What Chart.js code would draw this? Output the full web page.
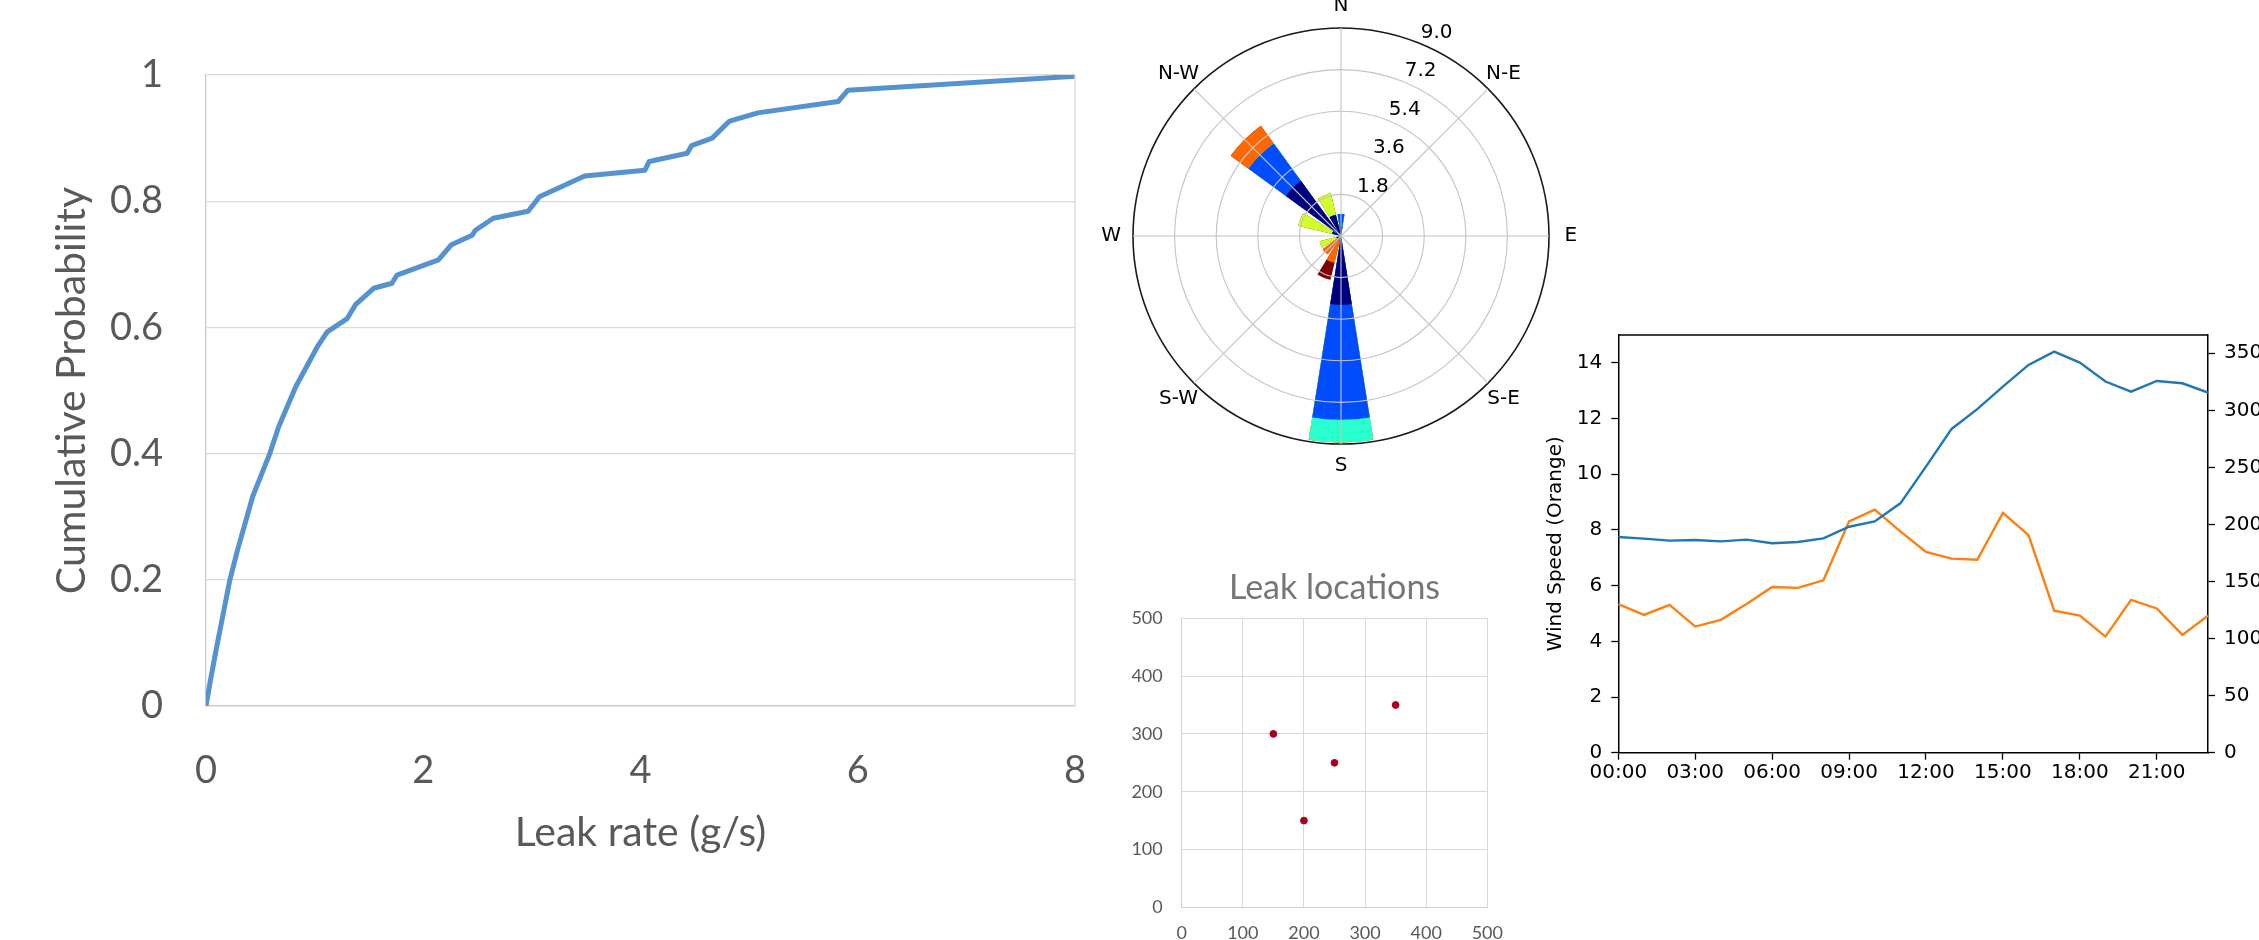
<!DOCTYPE html>
<html>
<head>
<meta charset="utf-8">
<script src="https://cdn.jsdelivr.net/npm/chart.js@4.4.1/dist/chart.umd.min.js"></script>
<style>
  html, body { margin: 0; padding: 0; background: #fff; }
  body { width: 2259px; height: 940px; overflow: hidden; position: relative; }
  .box { position: absolute; }
</style>
</head>
<body>
<div class="box" style="left:0;top:0;width:1120px;height:900px"><canvas id="cdfChart"></canvas></div>
<div class="box" style="left:1090px;top:0;width:502px;height:490px"><canvas id="roseChart"></canvas></div>
<div class="box" style="left:1110px;top:560px;width:420px;height:420px"><canvas id="leakChart"></canvas></div>
<div class="box" style="left:1530px;top:300px;width:740px;height:520px"><canvas id="windChart"></canvas></div>
<script>
// Cumulative probability of leak rate
const leakRate = [0, 0.04, 0.1, 0.22, 0.29, 0.43, 0.587, 0.67, 0.826, 1.024, 1.116, 1.30, 1.376, 1.544, 1.712, 1.758,
                  2.14, 2.26, 2.45, 2.48, 2.645, 2.966, 3.07, 3.486, 4.04, 4.08, 4.43, 4.47, 4.66, 4.82, 5.08, 5.82, 5.91, 8.0];
const cumProb = [0, 0.04, 0.095, 0.2, 0.247, 0.332, 0.40, 0.443, 0.506, 0.569, 0.593, 0.614, 0.636, 0.662, 0.670, 0.683,
                 0.707, 0.731, 0.746, 0.754, 0.773, 0.784, 0.807, 0.84, 0.849, 0.863, 0.876, 0.888, 0.90, 0.927, 0.94, 0.958, 0.976, 0.998];

// Wind rose: 16 directions (N, NNE, ... NNW), six speed classes stacked outward
const compassLabels = ['N', 'N-E', 'E', 'S-E', 'S', 'S-W', 'W', 'N-W'];
const speedClass0 = [0.4, 0, 0, 0, 0, 0, 0, 0, 2.98, 0, 0, 0.2, 0, 0.4, 2.95, 0.95];
const speedClass1 = [0.55, 0, 0, 0, 0, 0, 0, 0, 4.97, 0, 0, 0, 0, 0, 2.0, 0];
const speedClass2 = [0, 0, 0, 0, 0, 0, 0, 0, 0.98, 0, 0, 0, 0, 0, 0, 0];
const speedClass3 = [0, 0, 0, 0, 0, 0, 0, 0, 0, 0, 0, 0.75, 0, 1.5, 0, 0.95];
const speedClass4 = [0, 0, 0, 0, 0, 0, 0, 0, 0, 1.2, 0.98, 0, 0, 0, 0.95, 0];
const speedClass5 = [0, 0, 0, 0, 0, 0, 0, 0, 0, 0.75, 0, 0, 0, 0, 0, 0];
const speedColors = ['#00007F', '#004CFF', '#29FFCE', '#CEFF29', '#FF6800', '#7F0000'];

// Leak locations
const leakX = [150, 200, 250, 350];
const leakY = [300, 150, 250, 350];

// Hourly wind speed (left axis) and direction (right axis)
const hours = [0, 1, 2, 3, 4, 5, 6, 7, 8, 9, 10, 11, 12, 13, 14, 15, 16, 17, 18, 19, 20, 21, 22, 23];
const windSpeed = [5.34, 4.95, 5.31, 4.53, 4.77, 5.34, 5.95, 5.92, 6.19, 8.31, 8.73, 7.95,
                   7.21, 6.97, 6.93, 8.61, 7.81, 5.10, 4.92, 4.17, 5.49, 5.18, 4.23, 4.92];
const windDirection = [189, 187.6, 185.8, 186.4, 185.2, 186.7, 183.5, 184.6, 187.8, 198, 202.7, 218.5,
                       250.7, 283.7, 301, 320.8, 339.8, 351.4, 341.8, 325.2, 316.4, 325.7, 323.7, 315.5];

Chart.defaults.animation = false;
Chart.defaults.devicePixelRatio = 1;
Chart.defaults.plugins.legend.display = false;
Chart.defaults.plugins.tooltip.enabled = false;

const excelGrey = '#595959';
const mplFont = { family: 'DejaVu Sans', size: 20 };

// draws extra sides of the plot frame
const frame = {
    id: 'frame',
    afterDatasetsDraw(chart, args, opts) {
        const { left, right, top, bottom } = chart.chartArea;
        const ctx = chart.ctx;
        ctx.save();
        ctx.strokeStyle = opts.color;
        ctx.lineWidth = opts.width;
        ctx.beginPath();
        (opts.sides || []).forEach(side => {
            if (side === 'top') { ctx.moveTo(left, top); ctx.lineTo(right, top); }
            if (side === 'right') { ctx.moveTo(right, top); ctx.lineTo(right, bottom); }
        });
        ctx.stroke();
        ctx.restore();
    }
};

// ---- CDF chart ----
new Chart(document.getElementById('cdfChart'), {
    type: 'line',
    data: {
        datasets: [{
            data: leakRate.map((x, i) => ({ x: x, y: cumProb[i] })),
            borderColor: '#5592D0',
            borderWidth: 5,
            borderJoinStyle: 'round',
            pointRadius: 0,
            tension: 0
        }]
    },
    options: {
        responsive: true,
        maintainAspectRatio: false,
        layout: { padding: { top: 75, right: 40, left: 0, bottom: 0 } },
        plugins: { frame: { sides: ['right'], color: '#d9d9d9', width: 1.3 } },
        scales: {
            x: {
                type: 'linear', min: 0, max: 8,
                afterFit: s => { s.height = 194; },
                ticks: { stepSize: 2, padding: 34, color: excelGrey, font: { family: 'Lato', size: 38 } },
                grid: { display: false },
                border: { display: true, color: '#c8c8c8', width: 1.3 },
                title: { display: true, text: 'Leak rate (g/s)', color: excelGrey,
                         font: { family: 'Lato', size: 41 }, padding: { top: 0, bottom: 43 } }
            },
            y: {
                min: 0, max: 1,
                afterFit: s => { s.width = 206; },
                ticks: {
                    stepSize: 0.2, padding: 43, color: excelGrey, font: { family: 'Lato', size: 38 },
                    callback: v => (v === 0 || v === 1) ? String(v) : v.toFixed(1)
                },
                grid: { color: '#d9d9d9', lineWidth: 1.3, drawTicks: false },
                border: { display: true, color: '#c8c8c8', width: 1.3 },
                title: { display: true, text: 'Cumulative Probability', color: excelGrey,
                         font: { family: 'Lato', size: 41 }, padding: { top: 47, bottom: 0 } }
            }
        }
    },
    plugins: [frame]
});

// ---- Wind rose ----
// each direction takes an 18 degree bar with a 4.5 degree gap; N is split across 0/360
function toSectors(values) {
    const out = [values[0]];
    for (let d = 1; d < values.length; d++) out.push(0, values[d]);
    out.push(0, values[0]);
    return out;
}
const classes = [speedClass0, speedClass1, speedClass2, speedClass3, speedClass4, speedClass5];
const running = new Array(16).fill(0);
const roseSets = classes.map((cls, k) => {
    cls.forEach((v, d) => { running[d] += v; });
    return {
        data: toSectors(running.slice()),
        backgroundColor: speedColors[k],
        borderWidth: 0,
        angle: c => (c.dataIndex === 0 || c.dataIndex === 32) ? 9 : (c.dataIndex % 2 ? 4.5 : 18)
    };
});

const roseLabels = {
    id: 'roseLabels',
    afterDraw(chart) {
        const scale = chart.scales.r;
        const ctx = chart.ctx;
        ctx.save();
        ctx.font = '20px "DejaVu Sans"';
        ctx.fillStyle = '#000';
        ctx.textAlign = 'center';
        ctx.textBaseline = 'middle';
        compassLabels.forEach((label, i) => {
            const p = scale.getPointPosition(i, scale.drawingArea * 1.105);
            ctx.fillText(label, p.x, p.y);
        });
        scale.ticks.forEach(t => {
            if (t.value === 0) return;
            const p = scale.getPointPosition(0, scale.getDistanceFromCenterForValue(t.value), Math.PI / 8);
            ctx.fillText(t.value.toFixed(1), p.x + 16, p.y - 11);
        });
        ctx.restore();
    }
};

new Chart(document.getElementById('roseChart'), {
    type: 'polarArea',
    data: { labels: compassLabels, datasets: roseSets },
    options: {
        responsive: true,
        maintainAspectRatio: false,
        layout: { padding: { left: 43, top: 28, right: 43, bottom: 46 } },
        scales: {
            r: {
                min: 0, max: 9, startAngle: 0,
                ticks: { display: false, stepSize: 1.8 },
                grid: {
                    z: 1, circular: true,
                    color: c => (c.tick && c.tick.value >= 8.99) ? '#1a1a1a' : '#c4c4c4',
                    lineWidth: c => (c.tick && c.tick.value >= 8.99) ? 1.6 : 1.1
                },
                angleLines: { display: true, color: '#c4c4c4', lineWidth: 1.1 },
                pointLabels: { display: false }
            }
        }
    },
    plugins: [roseLabels]
});

// ---- Leak locations ----
new Chart(document.getElementById('leakChart'), {
    type: 'scatter',
    data: {
        datasets: [{
            data: leakX.map((x, i) => ({ x: x, y: leakY[i] })),
            backgroundColor: '#A8001C',
            borderColor: '#A8001C',
            pointRadius: 3.4
        }]
    },
    options: {
        responsive: true,
        maintainAspectRatio: false,
        layout: { padding: { top: 0, right: 42.7, left: 0, bottom: 0 } },
        plugins: {
            title: { display: true, text: 'Leak locations', fullSize: false, color: '#767676',
                     font: { family: 'Lato', size: 34, weight: 'normal' }, padding: { top: 7.6, bottom: 9.9 } }
        },
        scales: {
            x: {
                min: 0, max: 500,
                afterFit: s => { s.height = 72.7; },
                ticks: { stepSize: 100, padding: 14.7, color: excelGrey, font: { family: 'Lato', size: 18 } },
                grid: { color: '#d9d9d9', drawTicks: false },
                border: { color: '#d0d0d0' }
            },
            y: {
                min: 0, max: 500,
                afterFit: s => { s.width = 71.7; },
                ticks: { stepSize: 100, padding: 19, color: excelGrey, font: { family: 'Lato', size: 18 } },
                grid: { color: '#d9d9d9', drawTicks: false },
                border: { color: '#d0d0d0' }
            }
        }
    }
});

// ---- Hourly wind ----
const axisGrid = { drawOnChartArea: false, drawTicks: true, tickLength: 7, tickColor: '#000', tickWidth: 1.3 };
const axisBorder = { display: true, color: '#000', width: 1.5 };
new Chart(document.getElementById('windChart'), {
    type: 'line',
    data: {
        datasets: [{
            data: hours.map((h, i) => ({ x: h, y: windDirection[i] })),
            yAxisID: 'y1',
            borderColor: '#1f77b4',
            borderWidth: 2.4,
            pointRadius: 0,
            tension: 0
        }, {
            data: hours.map((h, i) => ({ x: h, y: windSpeed[i] })),
            yAxisID: 'y',
            borderColor: '#ff7f0e',
            borderWidth: 2.4,
            pointRadius: 0,
            tension: 0
        }]
    },
    options: {
        responsive: true,
        maintainAspectRatio: false,
        layout: { padding: { top: 35, right: 0, left: 0, bottom: 0 } },
        plugins: { frame: { sides: ['top'], color: '#000', width: 1.5 } },
        scales: {
            x: {
                type: 'linear', min: 0, max: 23,
                afterFit: s => { s.height = 67.3; },
                ticks: {
                    stepSize: 3, includeBounds: false, autoSkip: false, maxRotation: 0, padding: 1,
                    color: '#000', font: mplFont,
                    callback: v => String(v).padStart(2, '0') + ':00'
                },
                grid: axisGrid,
                border: axisBorder
            },
            y: {
                position: 'left', min: 0, max: 15,
                afterFit: s => { s.width = 88.3; },
                ticks: { stepSize: 2, includeBounds: false, padding: 9, color: '#000', font: mplFont },
                grid: axisGrid,
                border: axisBorder,
                title: { display: true, text: 'Wind Speed (Orange)', color: '#000', font: mplFont,
                         padding: { top: 13.6, bottom: 0 } }
            },
            y1: {
                position: 'right', min: 0, max: 366,
                afterFit: s => { s.width = 62; },
                ticks: { stepSize: 50, includeBounds: false, padding: 9, color: '#000', font: mplFont },
                grid: axisGrid,
                border: axisBorder
            }
        }
    },
    plugins: [frame]
});
</script>
</body>
</html>
